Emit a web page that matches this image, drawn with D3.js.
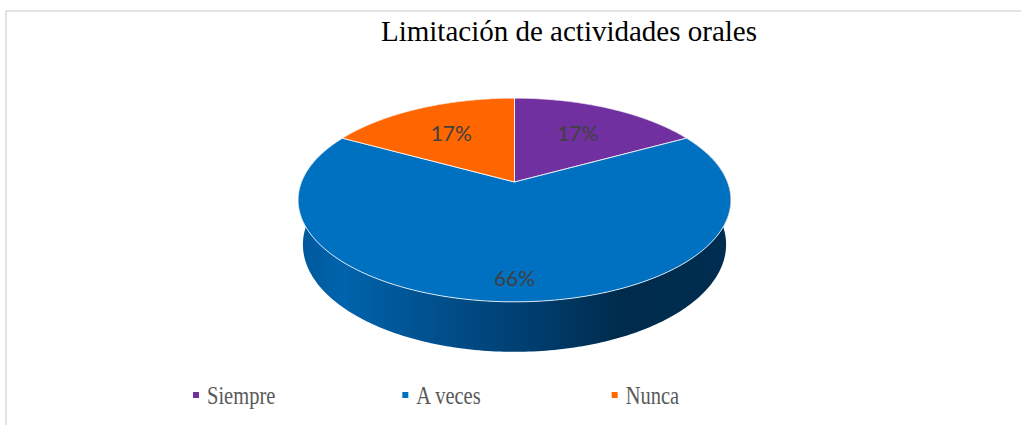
<!DOCTYPE html>
<html>
<head>
<meta charset="utf-8">
<script src="https://cdn.jsdelivr.net/npm/d3@7"></script>
<style>
  body { margin: 0; background: #fff; }
  svg { display: block; }
</style>
</head>
<body>
<script>
const width = 1021;
const height = 425;

// chart data
const categories = ["Siempre", "A veces", "Nunca"];
const values = [17, 66, 17];
const valueLabels = ["17%", "66%", "17%"];
const colors = ["#7030A0", "#0070C0", "#FF6600"];

const svg = d3.select("body")
              .append("svg")
              .attr("width", width)
              .attr("height", height);

// chart area border (only top and left visible)
svg.append("path")
   .attr("d", "M6,425V11H1021")
   .attr("fill", "none")
   .attr("stroke", "#d9d9d9")
   .attr("stroke-width", 1.5);

// title
svg.append("text")
   .attr("x", 569)
   .attr("y", 41)
   .attr("text-anchor", "middle")
   .style("font-family", "'Liberation Serif', 'Times New Roman', serif")
   .style("font-size", "29px")
   .style("fill", "#000")
   .text("Limitación de actividades orales");

// 3d perspective setup
const cx = 514.5, cy = 182, k = 213;
const tilt = 27.6 * Math.PI / 180;
const dist = 5.02;
const depth = 0.238;

function project(a, r, y) {
    const x = r * Math.sin(a), z = -r * Math.cos(a);
    const u = y * Math.cos(tilt) - z * Math.sin(tilt);
    const w = y * Math.sin(tilt) + z * Math.cos(tilt);
    const s = dist / (dist - w);
    return [cx + k * x * s, cy - k * u * s];
}

function rim(a0, a1, y) {
    const n = Math.max(2, Math.ceil((a1 - a0) * 60));
    return d3.range(n + 1).map(i => project(a0 + (a1 - a0) * i / n, 1, y));
}

const arcs = d3.pie().sort(null).value(d => d)(values);
const line = d3.line();

// side gradient
const grad = svg.append("defs").append("linearGradient")
    .attr("id", "side")
    .attr("gradientUnits", "userSpaceOnUse")
    .attr("x1", cx - 216).attr("x2", cx + 216)
    .attr("y1", 0).attr("y2", 0);
[[0, "#00579A"], [0.1, "#0063AC"], [0.35, "#004D88"], [0.55, "#003D6D"],
 [0.75, "#002B4C"], [1, "#002D50"]].forEach(s => {
    grad.append("stop").attr("offset", s[0]).attr("stop-color", s[1]);
});

// outer sides
svg.selectAll(".side")
   .data(arcs)
   .enter()
   .append("path")
   .attr("class", "side")
   .attr("d", d => {
       const top = rim(d.startAngle, d.endAngle, 0);
       const bottom = rim(d.startAngle, d.endAngle, -depth).reverse();
       return line(top.concat(bottom)) + "Z";
   })
   .attr("fill", (d, i) => i === 1 ? "url(#side)" : d3.color(colors[i]).darker(1.2));

// top faces
svg.selectAll(".slice")
   .data(arcs)
   .enter()
   .append("path")
   .attr("class", "slice")
   .attr("d", d => line([project(0, 0, 0)].concat(rim(d.startAngle, d.endAngle, 0))) + "Z")
   .attr("fill", (d, i) => colors[i])
   .attr("stroke", "rgba(255,255,255,0.8)")
   .attr("stroke-width", 1)
   .attr("stroke-linejoin", "round");

// value labels
svg.selectAll(".label")
   .data(arcs)
   .enter()
   .append("text")
   .attr("class", "label")
   .attr("x", d => project((d.startAngle + d.endAngle) / 2, (d.endAngle - d.startAngle) > Math.PI ? 0.83 : 0.64, 0)[0])
   .attr("y", d => project((d.startAngle + d.endAngle) / 2, (d.endAngle - d.startAngle) > Math.PI ? 0.83 : 0.64, 0)[1])
   .attr("text-anchor", "middle")
   .attr("dominant-baseline", "central")
   .style("font-family", "Lato, 'Open Sans', sans-serif")
   .style("font-size", "21px")
   .style("fill", "#404040")
   .text((d, i) => valueLabels[i]);

// legend
const legendX = d3.scaleBand().domain(categories).range([193, 821]);
const legend = svg.selectAll(".legend")
   .data(categories)
   .enter()
   .append("g")
   .attr("class", "legend")
   .attr("transform", d => "translate(" + legendX(d) + ",0)");

legend.append("rect")
   .attr("x", 0).attr("y", 392)
   .attr("width", 6).attr("height", 6)
   .attr("fill", (d, i) => colors[i]);

legend.append("text")
   .attr("transform", "translate(14,404) scale(0.82,1)")
   .style("font-family", "'Liberation Serif', 'Times New Roman', serif")
   .style("font-size", "25px")
   .style("fill", "#595959")
   .text(d => d);
</script>
</body>
</html>
